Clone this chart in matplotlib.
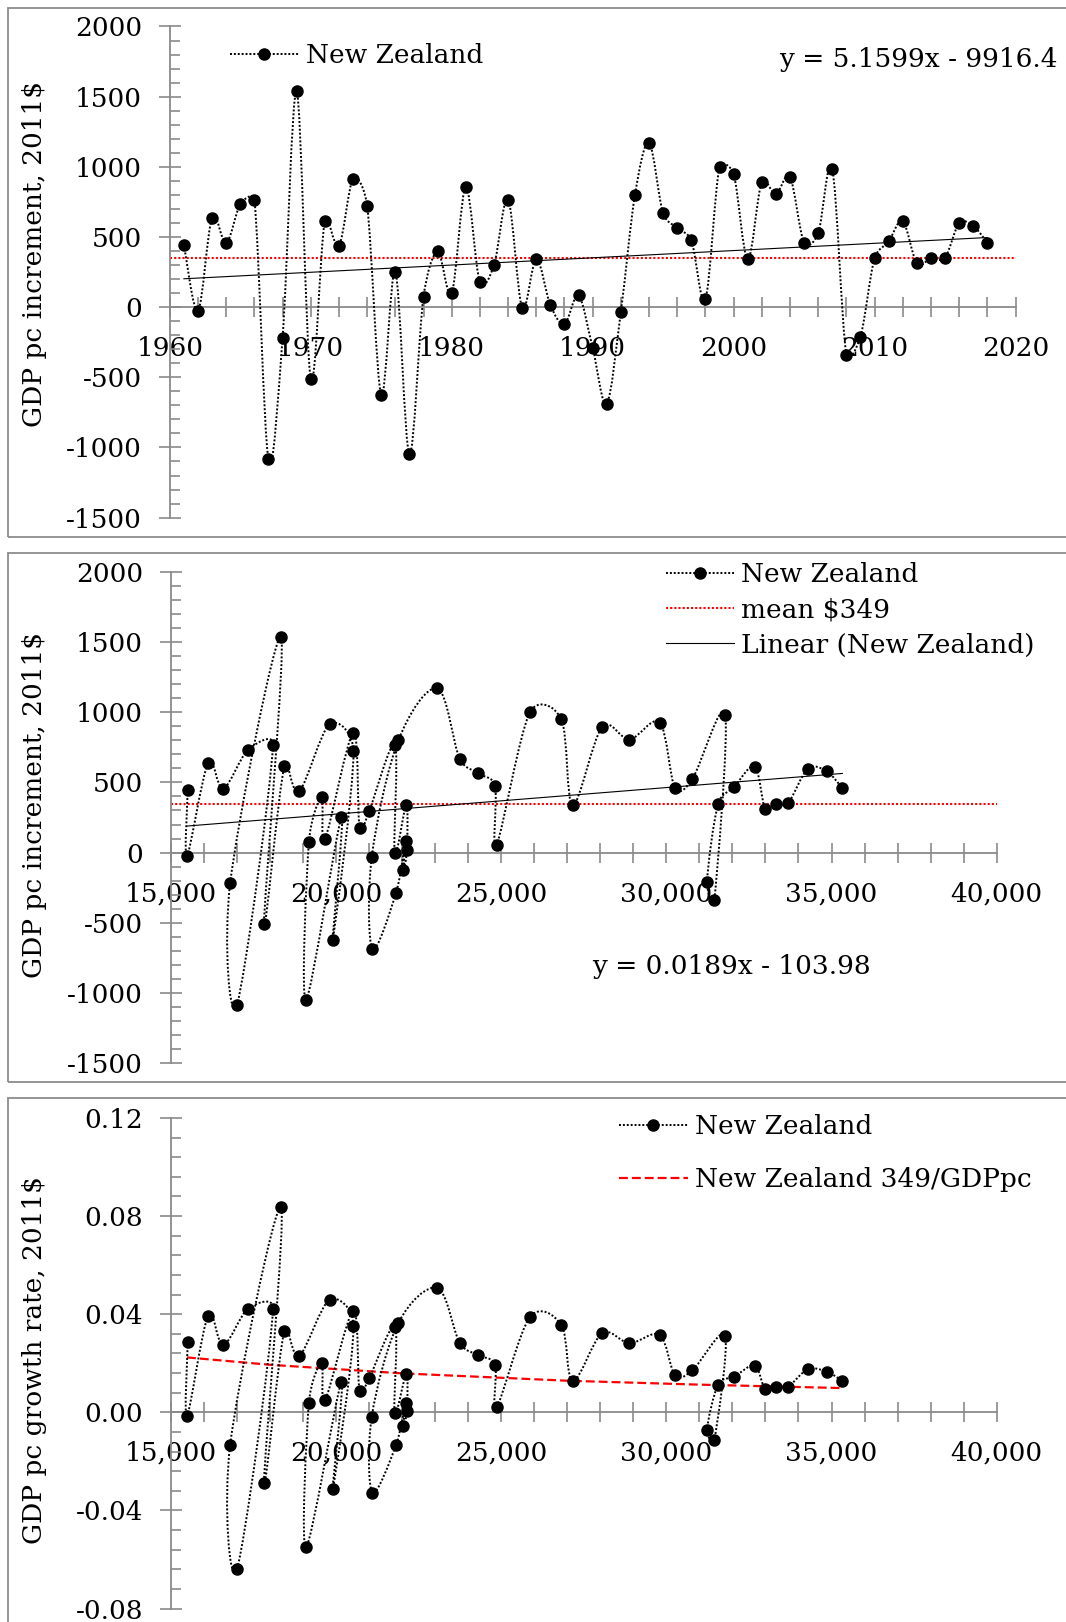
import numpy as np
import matplotlib
matplotlib.use("Agg")
import matplotlib.pyplot as plt
from matplotlib.path import Path
from matplotlib.patches import PathPatch, Rectangle
from matplotlib.lines import Line2D
from matplotlib.ticker import MultipleLocator, FuncFormatter

plt.rcParams['font.family'] = ['DejaVu Serif', 'DejaVu Sans']
plt.rcParams['axes.unicode_minus'] = False

W, H = 1066, 1622

# --- data ---
years = list(range(1961, 2019))

# GDP per capita increment, 2011$
increment = [444, -25, 637, 456, 733, 767, -1083, -218, 1537, -512,
             615, 436, 914, 723, -623, 252, -1049, 74, 397, 100,
             855, 176, 299, 767, -5, 342, 15, -121, 83, -290,
             -688, -34, 799, 1170, 668, 564, 476, 57, 1000, 950,
             341, 892, 806, 926, 460, 526, 982, -338, -211, 348,
             468, 613, 313, 347, 353, 597, 578, 460]

# GDP per capita level, 2011$
gdppc = [15512, 15491, 16129, 16588, 17341, 18093, 17006, 16797, 18334, 17822,
         18438, 18887, 19807, 20530, 19901, 20162, 19096, 19180, 19567, 19671,
         20528, 20716, 21009, 21782, 21777, 22127, 22148, 22033, 22106, 21813,
         21103, 21082, 21887, 23067, 23747, 24311, 24813, 24865, 25872, 26820,
         27167, 28052, 28884, 29800, 30263, 30790, 31780, 31453, 31232, 31569,
         32053, 32675, 32990, 33327, 33686, 34286, 34854, 35328]

# growth rate
growth = [0.0285, -0.0015, 0.0394, 0.0274, 0.0423, 0.0423, -0.0638, -0.0132, 0.0837, -0.0288,
          0.0332, 0.0230, 0.0459, 0.0352, -0.0314, 0.0125, -0.0550, 0.0039, 0.0203, 0.0051,
          0.0415, 0.0086, 0.0141, 0.0349, -0.0002, 0.0157, 0.0007, -0.0055, 0.0039, -0.0135,
          -0.0328, -0.0018, 0.0364, 0.0507, 0.0283, 0.0233, 0.0193, 0.0022, 0.0388, 0.0356,
          0.0127, 0.0322, 0.0282, 0.0315, 0.0152, 0.0172, 0.0312, -0.0112, -0.0070, 0.0113,
          0.0146, 0.0190, 0.0095, 0.0105, 0.0105, 0.0176, 0.0166, 0.0128]

mean_inc = 349

trend_yr_x = [1961, 2018]
trend_yr_y = [202, 496]
trend_gdp_x = [15491, 35328]
trend_gdp_y = [189, 564]

ratio_x = [15491, 18000, 22000, 27000, 31000, 35328]
ratio_y = [0.0224, 0.0194, 0.0159, 0.0129, 0.0113, 0.0099]

AX_GRAY = '#8a8a8a'
FS = 19
DOT = (0, (1, 1.0))


def smooth_path(ax, xs, ys):
    # excel-like smoothed line: bezier segments, arms worked out in pixels
    d = ax.transData.transform(np.column_stack([xs, ys]))
    n = len(d)
    verts = [d[0]]
    codes = [Path.MOVETO]
    for i in range(n - 1):
        p0 = d[i - 1] if i > 0 else d[i]
        p1, p2 = d[i], d[i + 1]
        p3 = d[i + 2] if i + 2 < n else d[i + 1]
        seg = np.hypot(*(p2 - p1))
        a1 = (p2 - p0) / 6
        a2 = (p3 - p1) / 6
        for a in (a1, a2):
            la = np.hypot(*a)
            if la > 0.5 * seg:
                a *= 0.5 * seg / la
        verts += [p1 + a1, p2 - a2, p2]
        codes += [Path.CURVE4] * 3
    verts = ax.transData.inverted().transform(np.array(verts))
    return Path(verts, codes)


def draw_series(ax, xs, ys):
    ax.add_patch(PathPatch(smooth_path(ax, xs, ys), fill=False, edgecolor='black',
                           lw=1.4, linestyle=DOT, zorder=3))
    ax.plot(xs, ys, 'o', color='black', ms=8, zorder=4)


def style_axes(ax, xmaj, xmin, ymaj, ymin, xfmt, yfmt):
    for s in ['top', 'right']:
        ax.spines[s].set_visible(False)
    ax.spines['bottom'].set_position(('data', 0))
    for s in ['bottom', 'left']:
        ax.spines[s].set_color(AX_GRAY)
        ax.spines[s].set_linewidth(1.3)
    ax.xaxis.set_major_locator(MultipleLocator(xmaj))
    ax.xaxis.set_minor_locator(MultipleLocator(xmin))
    ax.yaxis.set_major_locator(MultipleLocator(ymaj))
    ax.yaxis.set_minor_locator(MultipleLocator(ymin))
    ax.xaxis.set_major_formatter(FuncFormatter(xfmt))
    ax.yaxis.set_major_formatter(FuncFormatter(yfmt))
    ax.tick_params(axis='x', which='both', direction='inout', length=15,
                   width=1.2, color=AX_GRAY, labelsize=FS, pad=13)
    ax.tick_params(axis='y', which='major', direction='inout', length=16,
                   width=1.2, color=AX_GRAY, labelsize=FS, pad=12)
    ax.tick_params(axis='y', which='minor', direction='in', length=7,
                   width=1.2, color=AX_GRAY)
    ax.patch.set_visible(False)


def px_axes(left, right, top, bottom):
    return fig.add_axes([left / W, 1 - bottom / H, (right - left) / W, (bottom - top) / H])


fig = plt.figure(figsize=(W / 100, H / 100), dpi=100)

# panel borders
for top, bottom in [(8, 537), (553, 1082), (1098, 1640)]:
    fig.patches.append(Rectangle((8 / W, 1 - bottom / H), (1080 - 8) / W, (bottom - top) / H,
                                 transform=fig.transFigure, fill=False,
                                 ec='#8c8c8c', lw=1.3, clip_on=False))

nz_handle = Line2D([], [], color='black', lw=1.4, linestyle=DOT, marker='o', ms=8)
mean_handle = Line2D([], [], color='red', lw=1.5, linestyle=(0, (1, 1)))
lin_handle = Line2D([], [], color='black', lw=0.8)
ratio_handle = Line2D([], [], color='red', lw=1.6, linestyle=(0, (4, 1.8)))

leg_kw = dict(loc='upper left', frameon=False, bbox_transform=fig.transFigure,
              borderpad=0, borderaxespad=0, handlelength=2.6, handletextpad=0.27,
              fontsize=FS, numpoints=1)

# ---- panel 1: increment vs year ----
ax1 = px_axes(169.8, 1015.5, 26.5, 517.6)
ax1.set_xlim(1960, 2020)
ax1.set_ylim(-1500, 2000)
ax1.axhline(mean_inc, color='red', lw=1.5, linestyle=(0, (1, 1)), zorder=2)
ax1.plot(trend_yr_x, trend_yr_y, color='black', lw=0.8, zorder=2)
draw_series(ax1, years, increment)
style_axes(ax1, 10, 2, 500, 100, lambda v, p: f"{v:.0f}", lambda v, p: f"{v:.0f}")
ax1.legend([nz_handle], ['New Zealand'], bbox_to_anchor=(230 / W, 1 - 43 / H), **leg_kw)
fig.text(1058 / W, 1 - 59 / H, 'y = 5.1599x - 9916.4', ha='right', va='center', fontsize=FS)
fig.text(35 / W, 1 - 254 / H, 'GDP pc increment, 2011$', rotation=90,
         ha='center', va='center', fontsize=FS)

# ---- panel 2: increment vs GDP pc ----
ax2 = px_axes(170.8, 996.7, 572, 1063)
ax2.set_xlim(15000, 40000)
ax2.set_ylim(-1500, 2000)
ax2.axhline(mean_inc, color='red', lw=1.5, linestyle=(0, (1, 1)), zorder=2)
ax2.plot(trend_gdp_x, trend_gdp_y, color='black', lw=0.8, zorder=2)
draw_series(ax2, gdppc, increment)
style_axes(ax2, 5000, 1000, 500, 100, lambda v, p: f"{v:,.0f}", lambda v, p: f"{v:.0f}")
ax2.legend([nz_handle, mean_handle, lin_handle],
           ['New Zealand', f'mean ${mean_inc}', 'Linear (New Zealand)'],
           bbox_to_anchor=(665.5 / W, 1 - 562 / H), labelspacing=0.39, **leg_kw)
fig.text(592 / W, 1 - 966.5 / H, 'y = 0.0189x - 103.98', ha='left', va='center', fontsize=FS)
fig.text(35 / W, 1 - 805 / H, 'GDP pc increment, 2011$', rotation=90,
         ha='center', va='center', fontsize=FS)

# ---- panel 3: growth rate vs GDP pc ----
ax3 = px_axes(170.8, 996.7, 1118, 1608.6)
ax3.set_xlim(15000, 40000)
ax3.set_ylim(-0.08, 0.12)
ax3.plot(ratio_x, ratio_y, color='red', lw=1.6, linestyle=(0, (4, 1.8)), zorder=2)
draw_series(ax3, gdppc, growth)
style_axes(ax3, 5000, 1000, 0.04, 0.008, lambda v, p: f"{v:,.0f}", lambda v, p: f"{v:.2f}")
ax3.legend([nz_handle, ratio_handle], ['New Zealand', f'New Zealand {mean_inc}/GDPpc'],
           bbox_to_anchor=(619 / W, 1 - 1114.5 / H), labelspacing=1.05, **leg_kw)
fig.text(35 / W, 1 - 1360 / H, 'GDP pc growth rate, 2011$', rotation=90,
         ha='center', va='center', fontsize=FS)

fig.savefig('out.png', dpi=100)
